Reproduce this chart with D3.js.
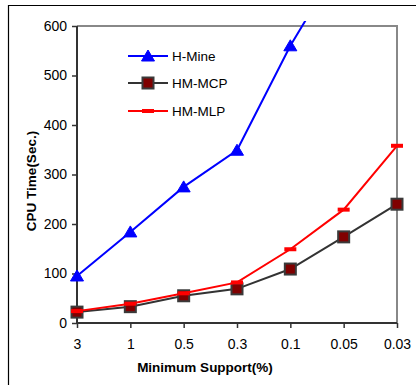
<!DOCTYPE html>
<html>
<head>
<meta charset="utf-8">
<script src="https://cdn.jsdelivr.net/npm/d3@7"></script>
<style>
  html, body { margin: 0; padding: 0; background: #fff; }
  svg { display: block; font-family: "Liberation Sans", Arial, sans-serif; }
</style>
</head>
<body>
<svg id="chart" width="416" height="385"></svg>
<script>
// Minimum support levels (%) along the x axis
const supports = ["3", "1", "0.5", "0.3", "0.1", "0.05", "0.03"];
// CPU time in seconds for each algorithm
const hMine = [95, 184, 275, 349, 560, 740, null];
const hmMCP = [22, 33, 55, 69, 109, 174, 240];
const hmMLP = [24, 39, 60, 82, 149, 229, 358];
const yTicks = [0, 100, 200, 300, 400, 500, 600];
const seriesNames = ["H-Mine", "HM-MCP", "HM-MLP"];

const svg = d3.select("#chart");
const plotL = 77, plotR = 397, plotT = 26, plotB = 323;

const x = d3.scalePoint().domain(supports).range([plotL, plotR]);
const y = d3.scaleLinear().domain([0, 600]).range([plotB, plotT]);

// outer frame (left and top edges visible)
svg.append("path")
  .attr("d", "M8.5,385 V5.5 H416")
  .attr("fill", "none").attr("stroke", "#000").attr("stroke-width", 1.2);

// plot area border (top and right in grey)
svg.append("path")
  .attr("d", `M${plotL},${plotT} H${plotR} V${plotB}`)
  .attr("fill", "none").attr("stroke", "#888").attr("stroke-width", 2);

// axes
const yAxis = svg.append("g")
  .attr("transform", `translate(${plotL},0)`)
  .call(d3.axisLeft(y).tickValues(yTicks).tickSize(5).tickPadding(5));
const xAxis = svg.append("g")
  .attr("transform", `translate(0,${plotB})`)
  .call(d3.axisBottom(x).tickSize(5).tickPadding(11));
[yAxis, xAxis].forEach(g => {
  g.select(".domain").attr("stroke", "#333").attr("stroke-width", 2);
  g.selectAll(".tick line").attr("stroke", "#333").attr("stroke-width", 1.5);
  g.selectAll(".tick text").attr("fill", "#000")
    .style("font-size", "14px").style("font-family", "Liberation Sans, Arial, sans-serif");
});
xAxis.select(".domain").attr("d", `M${plotL},0H${plotR}`);
yAxis.select(".domain").attr("d", `M0,${plotB}V${plotT}`);

// axis titles
svg.append("text")
  .attr("x", 205).attr("y", 372)
  .attr("text-anchor", "middle")
  .style("font-size", "13.5px").style("font-weight", "bold")
  .text("Minimum Support(%)");
svg.append("text")
  .attr("transform", "translate(36,181) rotate(-90)")
  .attr("text-anchor", "middle")
  .style("font-size", "13.5px").style("font-weight", "bold")
  .text("CPU Time(Sec.)");

// clip slightly above the plot so the steep H-Mine line is cut off
svg.append("clipPath").attr("id", "plotClip")
  .append("rect").attr("x", plotL - 10).attr("y", plotT - 5)
  .attr("width", plotR - plotL + 20).attr("height", plotB - plotT + 15);

const plot = svg.append("g").attr("clip-path", "url(#plotClip)");

const line = d3.line()
  .defined(d => d != null)
  .x((d, i) => x(supports[i]))
  .y(d => y(d));

const styles = [
  { data: hMine, color: "#0000ff", marker: "tri" },
  { data: hmMCP, color: "#333333", marker: "sq" },
  { data: hmMLP, color: "#ff0000", marker: "dash" }
];

function drawMarker(g, type, cx, cy) {
  if (type === "tri") {
    g.append("path")
      .attr("d", `M${cx},${cy - 6} L${cx + 6.5},${cy + 5} L${cx - 6.5},${cy + 5} Z`)
      .attr("fill", "#0000ff").attr("stroke", "#0000ff").attr("stroke-width", 1);
  } else if (type === "sq") {
    g.append("rect")
      .attr("x", cx - 5.5).attr("y", cy - 5.5).attr("width", 11).attr("height", 11)
      .attr("fill", "#800000").attr("stroke", "#3a3a3a").attr("stroke-width", 2);
  } else {
    g.append("rect")
      .attr("x", cx - 6).attr("y", cy - 2).attr("width", 12).attr("height", 4)
      .attr("fill", "#ff0000");
  }
}

// series drawn bottom-up: MCP, then MLP, then H-Mine
[styles[1], styles[2], styles[0]].forEach(s => {
  plot.append("path")
    .datum(s.data)
    .attr("fill", "none")
    .attr("stroke", s.color)
    .attr("stroke-width", 2)
    .attr("d", line);
  const mg = plot.append("g");
  s.data.forEach((v, i) => {
    if (v == null) return;
    drawMarker(mg, s.marker, x(supports[i]), y(v));
  });
});

// legend
const legendY = [56, 83, 111];
styles.forEach((s, i) => {
  const g = svg.append("g");
  g.append("line")
    .attr("x1", 128).attr("x2", 168)
    .attr("y1", legendY[i]).attr("y2", legendY[i])
    .attr("stroke", s.color).attr("stroke-width", 2);
  drawMarker(g, s.marker, 148, legendY[i]);
  g.append("text")
    .attr("x", 172).attr("y", legendY[i] + 5)
    .style("font-size", "13.5px")
    .text(seriesNames[i]);
});
</script>
</body>
</html>
